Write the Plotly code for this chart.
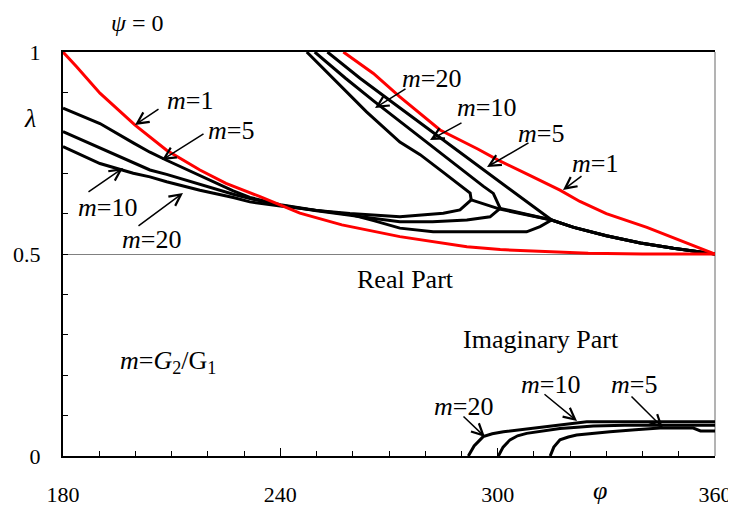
import plotly.graph_objects as go

# ---------------- data (phi in degrees, lambda) ----------------
# m = 1 (red), real part: lower branch and upper branch
m1_lo_phi = [180, 183.7, 190.2, 199.9, 208.6, 217.8, 225, 234.4, 245.4, 257, 273, 282.2, 291.5, 300.7, 310, 318, 325, 340, 360]
m1_lo_lam = [1.0, 0.964, 0.898, 0.819, 0.757, 0.708, 0.675, 0.642, 0.601, 0.572, 0.543, 0.530, 0.518, 0.511, 0.507, 0.505, 0.502, 0.500, 0.500]
m1_up_phi = [257.4, 265.7, 273, 284.1, 294.5, 300, 309, 317.2, 322.7, 330, 341.2, 350, 360]
m1_up_lam = [1.0, 0.947, 0.889, 0.807, 0.760, 0.733, 0.694, 0.658, 0.630, 0.600, 0.566, 0.535, 0.500]

# m = 5, real part
m5_lo_phi = [180, 190.2, 199.4, 204, 208.6, 217.8, 227, 231.6, 240, 250, 259.2, 266, 273, 282.2, 295, 308, 311.7, 314.9]
m5_lo_lam = [0.861, 0.823, 0.775, 0.752, 0.732, 0.693, 0.656, 0.640, 0.622, 0.608, 0.598, 0.582, 0.564, 0.555, 0.555, 0.555, 0.568, 0.584]
m5_up_phi = [253, 262, 271, 280, 288.7, 297, 305, 311, 314.9]
m5_up_lam = [1.0, 0.935, 0.875, 0.815, 0.757, 0.703, 0.650, 0.610, 0.584]

# m = 10, real part
m10_lo_phi = [180, 190.2, 199.4, 204, 208.6, 217.8, 227, 231.6, 240, 250, 259.2, 266, 273, 282, 291.5, 297.9, 300.7]
m10_lo_lam = [0.803, 0.762, 0.725, 0.708, 0.697, 0.672, 0.648, 0.637, 0.621, 0.607, 0.597, 0.588, 0.580, 0.580, 0.584, 0.592, 0.613]
m10_up_phi = [249.5, 258, 266, 275, 283.2, 291, 296, 298.8, 300.7]
m10_up_lam = [1.0, 0.935, 0.877, 0.814, 0.757, 0.703, 0.668, 0.650, 0.613]

# m = 20, real part
m20_lo_phi = [180, 190.2, 199.4, 204, 208.6, 217.8, 227, 231.6, 240, 250, 259.2, 266, 273, 285, 289.6, 292.7]
m20_lo_lam = [0.766, 0.724, 0.700, 0.691, 0.679, 0.658, 0.640, 0.629, 0.619, 0.608, 0.600, 0.596, 0.592, 0.601, 0.609, 0.634]
m20_up_phi = [247.3, 254.6, 263.8, 273, 278.6, 285, 292.4, 292.7]
m20_up_lam = [1.0, 0.934, 0.852, 0.777, 0.746, 0.702, 0.651, 0.634]

# real part of the complex pair (after coalescence)
m20_cx_phi = [292.7, 300.6, 314.9, 321, 330, 339.4, 348.5, 360]
m20_cx_lam = [0.634, 0.611, 0.584, 0.566, 0.545, 0.527, 0.514, 0.500]
m10_cx_phi = [300.7, 314.9, 321, 330, 339.4, 348.5, 360]
m10_cx_lam = [0.613, 0.584, 0.566, 0.545, 0.527, 0.514, 0.500]
m5_cx_phi = [314.9, 321, 330, 339.4, 348.5, 360]
m5_cx_lam = [0.584, 0.566, 0.545, 0.527, 0.514, 0.500]

# imaginary parts
m20_im_phi = [291.9, 293.5, 296, 298.5, 301.6, 307, 312.6, 318, 324.6, 340, 360]
m20_im_lam = [0.0, 0.025, 0.048, 0.055, 0.060, 0.066, 0.072, 0.078, 0.085, 0.085, 0.085]
m10_im_phi = [300.2, 301.5, 303.4, 305.5, 308, 312, 317.2, 322, 326.4, 335, 345, 360]
m10_im_lam = [0.0, 0.022, 0.040, 0.050, 0.056, 0.062, 0.068, 0.071, 0.074, 0.076, 0.076, 0.076]
m5_im_phi = [314.5, 315.5, 317.2, 319.5, 321.8, 326, 331, 338, 344.8, 354, 356, 360]
m5_im_lam = [0.0, 0.022, 0.040, 0.047, 0.052, 0.056, 0.060, 0.065, 0.069, 0.069, 0.062, 0.062]

x_ticks = [180, 240, 300, 360]
y_ticks = [0, 0.5, 1]
y_ticktext = ["0", "0.5", "1"]

RED = "#FF0000"
BLACK = "#000000"
FONT = "Liberation Serif"
LBL = 26

fig = go.Figure()

def add(x, y, color):
    fig.add_trace(go.Scatter(x=x, y=y, mode="lines",
                             line=dict(color=color, width=3),
                             showlegend=False, hoverinfo="skip"))

for xs, ys in [(m5_lo_phi, m5_lo_lam), (m5_up_phi, m5_up_lam), (m5_cx_phi, m5_cx_lam),
               (m10_lo_phi, m10_lo_lam), (m10_up_phi, m10_up_lam), (m10_cx_phi, m10_cx_lam),
               (m20_lo_phi, m20_lo_lam), (m20_up_phi, m20_up_lam), (m20_cx_phi, m20_cx_lam),
               (m20_im_phi, m20_im_lam), (m10_im_phi, m10_im_lam), (m5_im_phi, m5_im_lam)]:
    add(xs, ys, BLACK)
add(m1_lo_phi, m1_lo_lam, RED)
add(m1_up_phi, m1_up_lam, RED)

# reference-pixel -> data / paper helpers for annotation placement
X0, X1, Y0, Y1 = 63, 715, 52, 456
def P(xp, yp):
    return 180 + (xp - X0) * 180.0 / (X1 - X0), (Y1 - yp) / (Y1 - Y0)
def PP(xp, yp):
    return (xp - X0) / (X1 - X0), (Y1 - yp) / (Y1 - Y0)

labels = [
    ("<i>m</i>=1", (190, 100)),
    ("<i>m</i>=5", (231, 130)),
    ("<i>m</i>=10", (107, 207)),
    ("<i>m</i>=20", (151, 239)),
    ("<i>m</i>=20", (431, 78)),
    ("<i>m</i>=10", (486, 107)),
    ("<i>m</i>=5", (541, 133)),
    ("<i>m</i>=1", (595, 163)),
    ("Real Part", (405, 279)),
    ("Imaginary Part", (541, 339)),
    ("<i>m</i>=10", (550, 384)),
    ("<i>m</i>=5", (634, 384)),
    ("<i>m</i>=20", (463, 406)),
    ("<i>m</i>=<i>G</i><sub>2</sub>/G<sub>1</sub>", (168, 362)),
]
arrows = [
    ((160, 108), (135, 125)),
    ((205, 133), (162, 160)),
    ((87, 193), (123, 168)),
    ((137, 227), (183, 193)),
    ((407, 88), (375, 108)),
    ((463, 122), (430, 140)),
    ((530, 142), (487, 167)),
    ((583, 175), (563, 190)),
    ((543, 393), (577, 421)),
    ((630, 395), (663, 428)),
    ((462, 415), (485, 437)),
]

annots = []
for text, (cx, cy) in labels:
    x, y = P(cx, cy)
    annots.append(dict(x=x, y=y, xref="x", yref="y", text=text, showarrow=False,
                       font=dict(family=FONT, size=LBL, color=BLACK),
                       xanchor="center", yanchor="middle"))
for (tx, ty), (hx, hy) in arrows:
    ax_, ay_ = P(tx, ty)
    x, y = P(hx, hy)
    annots.append(dict(x=x, y=y, ax=ax_, ay=ay_, xref="x", yref="y", axref="x", ayref="y",
                       text="", showarrow=True, arrowhead=5, arrowsize=1.5,
                       arrowwidth=1.5, arrowcolor=BLACK))

# axis symbols & title (outside the plot area -> paper coordinates)
for text, (cx, cy), size in [("<i>ψ</i> = 0", (137, 23), 24),
                             ("<i>λ</i>", (30, 118), 26),
                             ("<i>φ</i>", (600, 490), 26)]:
    x, y = PP(cx, cy)
    annots.append(dict(x=x, y=y, xref="paper", yref="paper", text=text, showarrow=False,
                       font=dict(family=FONT, size=size, color=BLACK),
                       xanchor="center", yanchor="middle"))

# the page body has an 8px margin, so the figure is sized/offset to compensate
fig.update_layout(
    width=728, height=501,
    margin=dict(l=55, r=21, t=44, b=53, autoexpand=False),
    paper_bgcolor="white", plot_bgcolor="white",
    annotations=annots,
    shapes=[dict(type="line", xref="paper", yref="paper", x0=1, x1=1, y0=0, y1=1,
                 line=dict(color="#808080", width=1.2), layer="below")],
)
fig.update_xaxes(range=[180, 360], tickvals=x_ticks, ticks="inside", ticklen=8, tickwidth=1.3,
                 tickcolor=BLACK, showline=True, linecolor=BLACK, linewidth=2, mirror=True,
                 showgrid=False, zeroline=False, automargin=False,
                 minor=dict(ticks="inside", dtick=10, ticklen=5, tickwidth=1.1, tickcolor=BLACK, showgrid=False),
                 tickfont=dict(family=FONT, size=22, color=BLACK), ticklabelstandoff=18)
fig.update_yaxes(range=[0, 1], tickvals=y_ticks, ticktext=y_ticktext, ticks="inside", ticklen=5,
                 tickwidth=1.1, tickcolor=BLACK, showline=True, linecolor=BLACK, linewidth=2,
                 showgrid=True, gridcolor="#808080", gridwidth=1.2, zeroline=False, automargin=False,
                 minor=dict(ticks="inside", dtick=0.1, ticklen=5, tickwidth=1.1, tickcolor=BLACK, showgrid=False),
                 tickfont=dict(family=FONT, size=22, color=BLACK), ticklabelstandoff=16)

fig.write_html("out.html")
